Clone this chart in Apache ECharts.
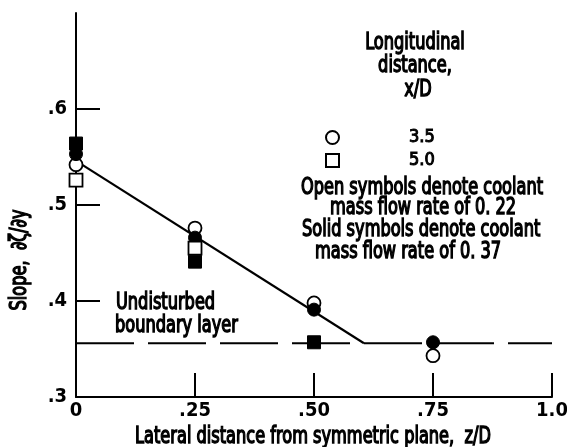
<!DOCTYPE html>
<html>
<head>
<meta charset="utf-8">
<script src="https://cdn.jsdelivr.net/npm/echarts@6/dist/echarts.min.js"></script>
<style>
  html, body { margin: 0; padding: 0; background: #fff; }
  #chart { width: 567px; height: 447px; }
</style>
</head>
<body>
<div id="chart"></div>
<script>
// data
const xTicks = [0, 0.25, 0.5, 0.75, 1.0];
const xTickLabels = ['0', '.25', '.50', '.75', '1.0'];
const yTicks = [0.3, 0.4, 0.5, 0.6];
const yTickLabels = ['.3', '.4', '.5', '.6'];

// x/D = 3.5 (circles), x/D = 5.0 (squares)
const circleOpenX = [0, 0.25, 0.5, 0.75];
const circleOpenY = [0.542, 0.476, 0.398, 0.343];
const circleSolidX = [0, 0.25, 0.5, 0.75];
const circleSolidY = [0.553, 0.466, 0.391, 0.357];
const squareOpenX = [0, 0.25];
const squareOpenY = [0.526, 0.455];
const squareSolidX = [0, 0.25, 0.5];
const squareSolidY = [0.564, 0.441, 0.357];

// faired curve and undisturbed boundary layer level
const fitX = [0, 0.605];
const fitY = [0.546, 0.356];
const baseX = [0, 1.0];
const baseY = [0.356, 0.356];

const font = "'Liberation Sans Narrow', 'DejaVu Sans Condensed', sans-serif";
const ink = '#000';
const fs = 18;
const tall = 1.25; // the original lettering is tall and condensed

function pairs(xs, ys) {
  return xs.map((x, i) => [x, ys[i]]);
}

function tickLabel(values, labels) {
  return function (v) {
    for (let i = 0; i < values.length; i++) {
      if (Math.abs(values[i] - v) < 1e-6) return labels[i];
    }
    return '';
  };
}

const myChart = echarts.init(document.getElementById('chart'));

// text placed by its anchor point, stretched upward
const txt = (text, x, y, align, rot) => ({
  type: 'text', x: x, y: y, scaleY: tall, rotation: rot || 0,
  style: {
    text: text, font: fs + 'px ' + font, fill: ink, stroke: ink, lineWidth: 1.1,
    textAlign: align || 'left', textVerticalAlign: 'middle'
  }
});

const labelStyle = {
  fontFamily: font, fontWeight: 'bold', fontSize: 20, color: ink
};

let option = {
  backgroundColor: '#fff',
  animation: false,
  grid: { left: 76, right: 15, top: 13, bottom: 50, outerBoundsMode: 'none' },
  xAxis: {
    type: 'value', min: 0, max: 1.0, interval: 0.25,
    axisLine: { lineStyle: { color: ink, width: 2 } },
    axisTick: { inside: true, length: 24, lineStyle: { color: ink, width: 2 }, customValues: xTicks.slice(1) },
    axisLabel: Object.assign({ margin: 4, customValues: xTicks, formatter: tickLabel(xTicks, xTickLabels) }, labelStyle),
    splitLine: { show: false }
  },
  yAxis: {
    type: 'value', min: 0.3, max: 0.7, interval: 0.1,
    axisLine: { show: true, lineStyle: { color: ink, width: 2 } },
    axisTick: { show: true, inside: true, length: 24, lineStyle: { color: ink, width: 2 }, customValues: yTicks.slice(1) },
    axisLabel: Object.assign({ margin: 9, customValues: yTicks, formatter: tickLabel(yTicks, yTickLabels) }, labelStyle),
    splitLine: { show: false }
  },
  legend: {
    orient: 'vertical', left: 320, top: 123, itemGap: 4,
    itemWidth: 13, itemHeight: 13, selectedMode: false,
    data: [{ name: '3.5', icon: 'circle' }, { name: '5.0', icon: 'rect' }],
    textStyle: { fontFamily: font, fontSize: 18, color: ink, textBorderColor: ink, textBorderWidth: 1, padding: [0, 0, 0, 65] }
  },
  graphic: [
    txt('Longitudinal', 415, 43, 'center'),
    txt('distance,', 415, 66, 'center'),
    txt('x/D', 418, 90, 'center'),
    txt('Open symbols denote coolant', 422, 188, 'center'),
    txt('mass flow rate of 0. 22', 330, 208),
    txt('Solid symbols denote coolant', 302, 230),
    txt('mass flow rate of 0. 37', 315, 252),
    txt('Undisturbed', 116, 303),
    txt('boundary layer', 115, 326),
    txt('Lateral distance from symmetric plane,  z/D', 313, 437, 'center'),
    txt('Slope,  \u2202\u03b6/\u2202y', 20, 260, 'center', Math.PI / 2)
  ],
  series: [
    {
      type: 'line', data: pairs(baseX, baseY), symbol: 'none', z: 1,
      lineStyle: { color: ink, width: 2, type: [58, 14] }
    },
    {
      type: 'line', data: pairs(fitX, fitY), symbol: 'none', z: 1,
      lineStyle: { color: ink, width: 2.2 }
    },
    {
      name: '3.5', type: 'scatter', symbol: 'circle', symbolSize: 13, z: 3,
      data: pairs(circleOpenX, circleOpenY),
      itemStyle: { color: '#fff', borderColor: ink, borderWidth: 1.8, opacity: 1 }
    },
    {
      name: '3.5 solid', type: 'scatter', symbol: 'circle', symbolSize: 13, z: 4,
      data: pairs(circleSolidX, circleSolidY),
      itemStyle: { color: ink, borderColor: ink, borderWidth: 1, opacity: 1 }
    },
    {
      name: '5.0', type: 'scatter', symbol: 'rect', symbolSize: 13, z: 5,
      data: pairs(squareOpenX, squareOpenY),
      itemStyle: { color: '#fff', borderColor: ink, borderWidth: 1.8, opacity: 1 }
    },
    {
      name: '5.0 solid', type: 'scatter', symbol: 'rect', symbolSize: 13, z: 6,
      data: pairs(squareSolidX, squareSolidY),
      itemStyle: { color: ink, borderColor: ink, borderWidth: 1, opacity: 1 }
    }
  ]
};

myChart.setOption(option);
</script>
</body>
</html>
